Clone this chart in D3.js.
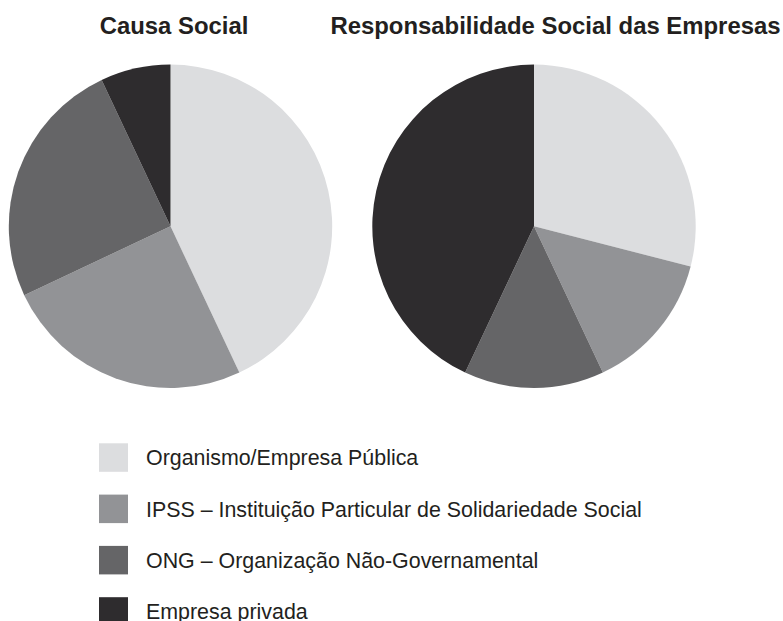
<!DOCTYPE html>
<html>
	<head>
		<meta charset="utf-8">
		<script type="text/javascript" src="https://cdn.jsdelivr.net/npm/d3@7"></script>
		<style type="text/css">
          body { margin: 0; background: #fff; }
          .title { font-size: 23.9px; font-weight: bold; font-family: "Liberation Sans", Arial, sans-serif; fill: #231f20; }
          .legend { font-size: 21.4px; font-family: "Liberation Sans", Arial, sans-serif; fill: #231f20; }
        </style>
	</head>
	<body>
		<div id="viz"></div>
		<script type="text/javascript">
          var width = 783;
          var height = 621;

          var categories = [
              "Organismo/Empresa Pública",
              "IPSS – Instituição Particular de Solidariedade Social",
              "ONG – Organização Não-Governamental",
              "Empresa privada"
          ];
          var titles = ["Causa Social", "Responsabilidade Social das Empresas"];
          var causaSocial = [43, 25, 25, 7];
          var responsabilidade = [29, 14, 14, 43];
          var shades = ["#dcdddf", "#929396", "#656567", "#2e2c2e"];

          var svg = d3.select("#viz")
          .append("svg")
          .attr("width", width)
          .attr("height", height);

          var color = d3.scaleOrdinal().domain(categories).range(shades);

          // pies start at 12 o'clock and go clockwise, keep data order
          var pie = d3.pie().sort(null).value(function(d) { return d.value; });
          var arc = d3.arc().innerRadius(0).outerRadius(161.7);

          var charts = [
              {title: titles[0], values: causaSocial, cx: 170.5, cy: 226.3, tx: 174},
              {title: titles[1], values: responsabilidade, cx: 534, cy: 226.3, tx: 555.5}
          ];

          charts.forEach(function(c) {
              var rows = categories.map(function(k, i) { return {key: k, value: c.values[i]}; });

              var g = svg.append("g")
                  .attr("transform", "translate(" + c.cx + "," + c.cy + ")");

              g.selectAll("path")
                  .data(pie(rows))
                  .enter().append("path")
                  .attr("d", arc)
                  .attr("fill", function(d) { return color(d.data.key); });

              svg.append("text")
                  .text(c.title)
                  .attr("x", c.tx)
                  .attr("y", 33.5)
                  .attr("text-anchor", "middle")
                  .attr("class", "title");
          });

          // legend, one row per category
          var rowY = d3.scaleBand()
              .domain(categories)
              .range([443.3, 443.3 + 4 * 51.3]);

          var leg = svg.selectAll("g.item")
              .data(categories)
              .enter().append("g")
              .attr("class", "item")
              .attr("transform", function(d) { return "translate(99," + rowY(d) + ")"; });

          leg.append("rect")
              .attr("width", 29)
              .attr("height", 28.5)
              .attr("fill", function(d) { return color(d); });

          leg.append("text")
              .text(function(d) { return d; })
              .attr("x", 47)
              .attr("y", 22)
              .attr("class", "legend");
		</script>
	</body>
</html>
